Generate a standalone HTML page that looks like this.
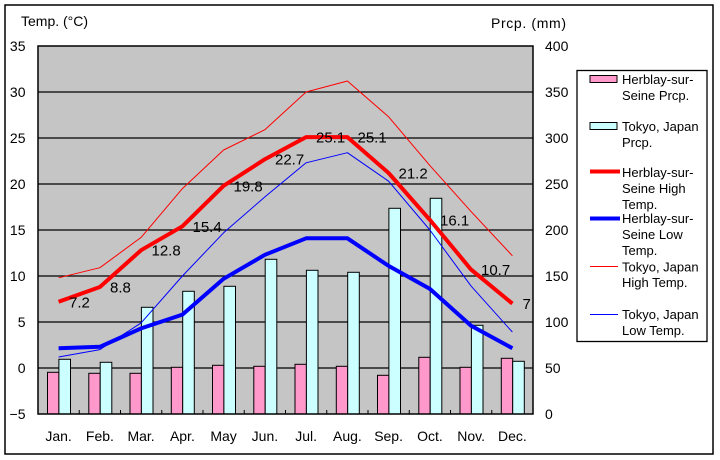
<!DOCTYPE html>
<html><head><meta charset="utf-8"><style>
html,body{margin:0;padding:0;background:#fff;}
svg{display:block;}
text{font-family:"Liberation Sans","Noto Sans CJK JP",sans-serif;fill:#000;}
</style></head><body>
<svg width="720" height="460" viewBox="0 0 720 460" xmlns="http://www.w3.org/2000/svg">
<rect x="5" y="5" width="708" height="449" fill="#fff" stroke="#000" stroke-width="1.5"/>
<rect x="38" y="46" width="495" height="368" fill="#c5c5c5"/>
<g stroke="#000" stroke-width="1.3">
<line x1="38" y1="92" x2="533" y2="92"/><line x1="38" y1="138" x2="533" y2="138"/>
<line x1="38" y1="184" x2="533" y2="184"/><line x1="38" y1="230" x2="533" y2="230"/>
<line x1="38" y1="276" x2="533" y2="276"/><line x1="38" y1="322" x2="533" y2="322"/>
<line x1="38" y1="368" x2="533" y2="368"/>
</g>
<g stroke="#000" stroke-width="1">
<rect x="47.5" y="372.3" width="11.4" height="41.7" fill="#ff99cc"/><rect x="58.9" y="359.3" width="11.6" height="54.7" fill="#ccffff"/>
<rect x="88.8" y="373.3" width="11.4" height="40.7" fill="#ff99cc"/><rect x="100.2" y="362.3" width="11.6" height="51.7" fill="#ccffff"/>
<rect x="130.0" y="373.3" width="11.4" height="40.7" fill="#ff99cc"/><rect x="141.4" y="307.3" width="11.6" height="106.7" fill="#ccffff"/>
<rect x="171.3" y="367.3" width="11.4" height="46.7" fill="#ff99cc"/><rect x="182.7" y="291.3" width="11.6" height="122.7" fill="#ccffff"/>
<rect x="212.5" y="365.3" width="11.4" height="48.7" fill="#ff99cc"/><rect x="223.9" y="286.3" width="11.6" height="127.7" fill="#ccffff"/>
<rect x="253.8" y="366.3" width="11.4" height="47.7" fill="#ff99cc"/><rect x="265.2" y="259.3" width="11.6" height="154.7" fill="#ccffff"/>
<rect x="295.0" y="364.3" width="11.4" height="49.7" fill="#ff99cc"/><rect x="306.4" y="270.3" width="11.6" height="143.7" fill="#ccffff"/>
<rect x="336.3" y="366.3" width="11.4" height="47.7" fill="#ff99cc"/><rect x="347.7" y="272.3" width="11.6" height="141.7" fill="#ccffff"/>
<rect x="377.5" y="375.3" width="11.4" height="38.7" fill="#ff99cc"/><rect x="388.9" y="208.3" width="11.6" height="205.7" fill="#ccffff"/>
<rect x="418.8" y="357.3" width="11.4" height="56.7" fill="#ff99cc"/><rect x="430.2" y="198.3" width="11.6" height="215.7" fill="#ccffff"/>
<rect x="460.0" y="367.3" width="11.4" height="46.7" fill="#ff99cc"/><rect x="471.4" y="325.3" width="11.6" height="88.7" fill="#ccffff"/>
<rect x="501.3" y="358.3" width="11.4" height="55.7" fill="#ff99cc"/><rect x="512.7" y="361.3" width="11.6" height="52.7" fill="#ccffff"/>
</g>
<rect x="38" y="46" width="495" height="368" fill="none" stroke="#000" stroke-width="1.5"/>
<g stroke="#000" stroke-width="1">
<line x1="79.25" y1="410" x2="79.25" y2="414"/><line x1="120.5" y1="410" x2="120.5" y2="414"/>
<line x1="161.75" y1="410" x2="161.75" y2="414"/><line x1="203" y1="410" x2="203" y2="414"/>
<line x1="244.25" y1="410" x2="244.25" y2="414"/><line x1="285.5" y1="410" x2="285.5" y2="414"/>
<line x1="326.75" y1="410" x2="326.75" y2="414"/><line x1="368" y1="410" x2="368" y2="414"/>
<line x1="409.25" y1="410" x2="409.25" y2="414"/><line x1="450.5" y1="410" x2="450.5" y2="414"/>
<line x1="491.75" y1="410" x2="491.75" y2="414"/>
</g>
<g fill="none" stroke-linejoin="round">
<polyline stroke="#ff0000" stroke-width="1" points="58.6,277.8 99.9,267.7 141.1,237.4 182.4,188.6 223.6,150.0 264.9,129.7 306.1,92.0 347.4,81.0 388.6,116.8 429.9,165.6 471.1,211.6 512.4,255.8"/>
<polyline stroke="#0000ff" stroke-width="1" points="58.6,357.0 99.9,349.6 141.1,322.9 182.4,276.0 223.6,232.8 264.9,196.9 306.1,162.8 347.4,152.7 388.6,181.2 429.9,230.0 471.1,286.1 512.4,332.1"/>
<polyline stroke="#ff0000" stroke-width="4" points="58.6,301.8 99.9,287.0 141.1,250.2 182.4,226.3 223.6,185.8 264.9,159.2 306.1,137.1 347.4,137.1 388.6,173.0 429.9,219.9 471.1,269.6 512.4,303.6"/>
<polyline stroke="#0000ff" stroke-width="4" points="58.6,348.2 99.9,346.8 141.1,328.4 182.4,314.6 223.6,278.8 264.9,254.8 306.1,238.3 347.4,238.3 388.6,265.9 429.9,288.9 471.1,325.7 512.4,348.2"/>
</g>
<g font-size="15">
<text x="69" y="307.3">7.2</text>
<text x="110" y="292.5">8.8</text>
<text x="151.5" y="255.7">12.8</text>
<text x="192.5" y="231.8">15.4</text>
<text x="233.5" y="191.3">19.8</text>
<text x="275" y="164.7">22.7</text>
<text x="316" y="142.6">25.1</text>
<text x="357.5" y="142.6">25.1</text>
<text x="398.5" y="178.5">21.2</text>
<text x="440" y="225.4">16.1</text>
<text x="481" y="275.1">10.7</text>
<text x="522.5" y="309.1">7</text>
</g>
<g font-size="14" text-anchor="end">
<text x="25.5" y="51">35</text><text x="25.5" y="97">30</text><text x="25.5" y="143">25</text>
<text x="25.5" y="189">20</text><text x="25.5" y="235">15</text><text x="25.5" y="281">10</text>
<text x="25.5" y="327">5</text><text x="25.5" y="373">0</text><text x="25.5" y="419">−5</text>
</g>
<g font-size="14">
<text x="545" y="51">400</text><text x="545" y="97">350</text><text x="545" y="143">300</text>
<text x="545" y="189">250</text><text x="545" y="235">200</text><text x="545" y="281">150</text>
<text x="545" y="327">100</text><text x="545" y="373">50</text><text x="545" y="419">0</text>
</g>
<g font-size="14" text-anchor="middle">
<text x="58.6" y="441">Jan.</text><text x="99.9" y="441">Feb.</text><text x="141.1" y="441">Mar.</text>
<text x="182.4" y="441">Apr.</text><text x="223.6" y="441">May</text><text x="264.9" y="441">Jun.</text>
<text x="306.1" y="441">Jul.</text><text x="347.4" y="441">Aug.</text><text x="388.6" y="441">Sep.</text>
<text x="429.9" y="441">Oct.</text><text x="471.1" y="441">Nov.</text><text x="512.4" y="441">Dec.</text>
</g>
<text x="21" y="26" font-size="14">Temp. (°C)</text>
<text x="491" y="28" font-size="14" textLength="75">Prcp. (mm)</text>
<rect x="577" y="70.5" width="130" height="271" fill="#fff" stroke="#000" stroke-width="1.3"/>
<rect x="590" y="75.5" width="27" height="7" fill="#ff99cc" stroke="#000" stroke-width="1"/>
<rect x="590" y="122.5" width="27" height="7" fill="#ccffff" stroke="#000" stroke-width="1"/>
<line x1="590" y1="171.5" x2="620" y2="171.5" stroke="#ff0000" stroke-width="4"/>
<line x1="590" y1="218.5" x2="620" y2="218.5" stroke="#0000ff" stroke-width="4"/>
<line x1="590" y1="266.5" x2="618" y2="266.5" stroke="#ff0000" stroke-width="1"/>
<line x1="590" y1="314.5" x2="618" y2="314.5" stroke="#0000ff" stroke-width="1"/>
<g font-size="13">
<text x="622" y="84">Herblay-sur-</text><text x="622" y="100">Seine Prcp.</text>
<text x="622" y="131">Tokyo, Japan</text><text x="622" y="147">Prcp.</text>
<text x="622" y="177">Herblay-sur-</text><text x="622" y="193">Seine High</text><text x="622" y="209">Temp.</text>
<text x="622" y="223">Herblay-sur-</text><text x="622" y="239">Seine Low</text><text x="622" y="255">Temp.</text>
<text x="622" y="271.5">Tokyo, Japan</text><text x="622" y="287">High Temp.</text>
<text x="622" y="319">Tokyo, Japan</text><text x="622" y="335">Low Temp.</text>
</g>
</svg>
</body></html>
